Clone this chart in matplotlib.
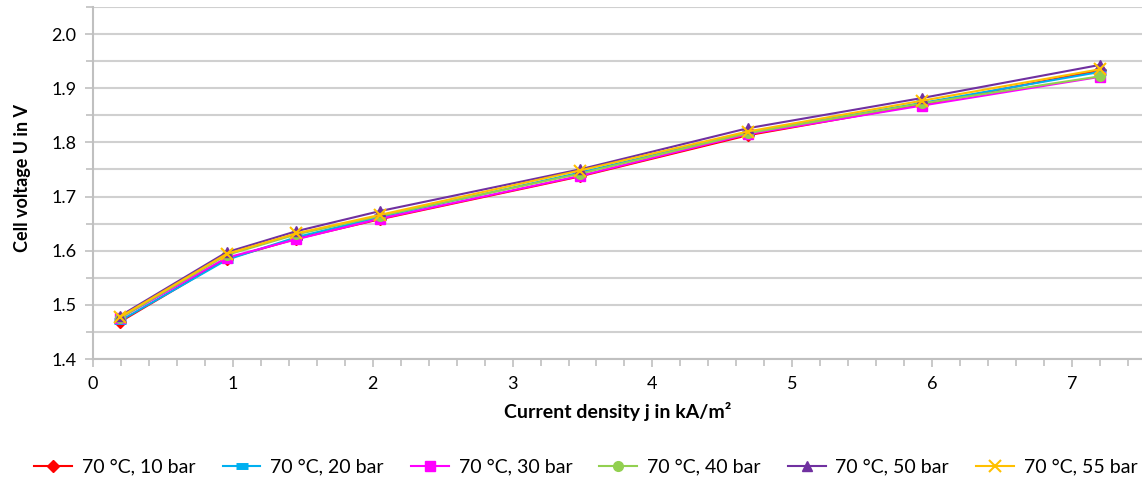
import matplotlib.pyplot as plt
from matplotlib.ticker import MultipleLocator

plt.rcParams['font.family'] = ['Lato', 'DejaVu Sans']

# current density in kA/m2
j = [0.19, 0.955, 1.455, 2.05, 3.48, 4.68, 5.93, 7.2]

# cell voltage in V at 70 °C for each pressure
u_10bar = [1.468, 1.585, 1.622, 1.658, 1.737, 1.813, 1.870, 1.933]
u_20bar = [1.470, 1.583, 1.625, 1.662, 1.744, 1.818, 1.873, 1.930]
u_30bar = [1.475, 1.587, 1.621, 1.659, 1.738, 1.815, 1.868, 1.921]
u_40bar = [1.475, 1.592, 1.630, 1.664, 1.742, 1.817, 1.872, 1.922]
u_50bar = [1.479, 1.597, 1.636, 1.673, 1.750, 1.826, 1.882, 1.943]
u_55bar = [1.477, 1.594, 1.632, 1.666, 1.748, 1.820, 1.877, 1.935]

labels = ['70 °C, 10 bar', '70 °C, 20 bar', '70 °C, 30 bar',
          '70 °C, 40 bar', '70 °C, 50 bar', '70 °C, 55 bar']

fig = plt.figure(figsize=(11.42, 4.79), dpi=100)
ax = fig.add_axes([0.0814, 0.2505, 0.9186, 0.735])

styles = [
    dict(color='#FF0000', marker='D', ms=6),
    dict(color='#00B0F0', marker='_', ms=9, mew=5),
    dict(color='#FF00FF', marker='s', ms=7),
    dict(color='#92D050', marker='o', ms=7),
    dict(color='#7030A0', marker='^', ms=7),
    dict(color='#FFC000', marker='x', ms=8, mew=1.5),
]
series = [u_10bar, u_20bar, u_30bar, u_40bar, u_50bar, u_55bar]
for u, lab, st in zip(series, labels, styles):
    ax.plot(j, u, lw=1.5, label=lab, **st)

ax.set_xlim(0, 7.5)
ax.set_ylim(1.4, 2.05)
ax.xaxis.set_major_locator(MultipleLocator(1))
ax.xaxis.set_minor_locator(MultipleLocator(0.2))
ax.yaxis.set_major_locator(MultipleLocator(0.1))
ax.yaxis.set_minor_locator(MultipleLocator(0.05))
ax.yaxis.set_major_formatter(plt.FormatStrFormatter('%.1f'))

ax.grid(True, which='both', axis='y', color='#D0D0D0', lw=1.5)
ax.set_axisbelow(True)
for s in ['top', 'right']:
    ax.spines[s].set_visible(False)
for s in ['left', 'bottom']:
    ax.spines[s].set_color('#C0C0C0')
    ax.spines[s].set_linewidth(1.5)
ax.tick_params(which='both', direction='out', color='#C0C0C0', width=1.2)
ax.tick_params(which='major', length=6, labelsize=13, pad=6)
ax.tick_params(which='minor', length=5)

ax.set_xlabel('Current density j in kA/m²', fontsize=14, fontweight='bold')
ax.set_ylabel('Cell voltage U in V', fontsize=13, fontweight='bold')
ax.xaxis.set_label_coords(0.5, -0.122)
ax.yaxis.set_label_coords(-0.059, 0.515)

fig.legend(loc='center', bbox_to_anchor=(0.513, 1 - 467 / 479), ncol=6,
           frameon=False, fontsize=14, handlelength=1.95, columnspacing=1.4,
           handletextpad=0.5)

fig.savefig('out.png', dpi=100)
